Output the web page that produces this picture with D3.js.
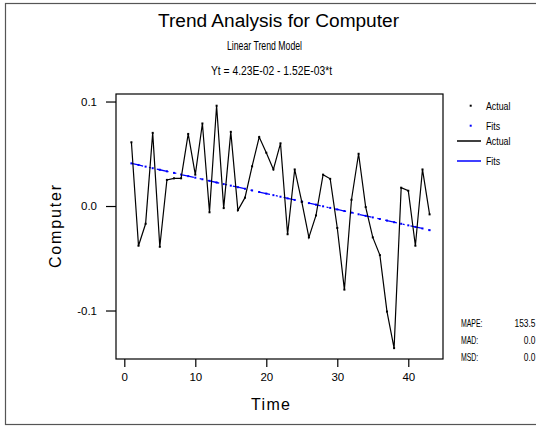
<!DOCTYPE html>
<html>
<head>
<title>Trend Analysis for Computer</title>
<meta charset="utf-8">
<script src="https://d3js.org/d3.v7.min.js"></script>
<style type="text/css">
	body{ margin:0; background:#fff; }
	text{ font-family: "Liberation Sans", Arial, sans-serif; fill:#000; }
</style>
</head>
<body>
<div id="chart"></div>
<script type="text/javascript">
/* time index */
var time_idx = d3.range(1, 44);
/* Actual values */
var actual_vals = [0.061,-0.038,-0.017,0.070,-0.039,0.025,0.0265,0.0265,0.069,0.030,
	0.079,-0.006,0.096,-0.002,0.071,-0.004,0.008,0.038,0.066,0.051,
	0.035,0.060,-0.027,0.035,0.004,-0.030,-0.009,0.030,0.026,-0.021,
	-0.080,0.006,0.050,-0.001,-0.030,-0.047,-0.101,-0.136,0.0175,0.0146,
	-0.038,0.035,-0.008];
/* Fits of the linear trend model */
var fit_vals = [0.0408,0.0393,0.0377,0.0362,0.0347,0.0332,0.0317,0.0301,0.0286,0.0271,
	0.0256,0.0241,0.0225,0.0210,0.0195,0.0180,0.0165,0.0149,0.0134,0.0119,
	0.0104,0.0089,0.0073,0.0058,0.0043,0.0028,0.0013,-0.0003,-0.0018,-0.0033,
	-0.0048,-0.0063,-0.0079,-0.0094,-0.0109,-0.0124,-0.0139,-0.0155,-0.0170,-0.0185,
	-0.0200,-0.0215,-0.0231];
var x_ticks = [0, 10, 20, 30, 40];
var y_ticks = [0.1, 0.0, -0.1];
var y_tick_labels = ["0.1", "0.0", "-0.1"];
var legend_items = ["Actual", "Fits"];
var stat_names = ["MAPE:", "MAD:", "MSD:"];
var stat_vals = ["153.5", "0.0", "0.0"];

var w = 536, h = 436;
var plot = {left:116, right:443, top:94, bottom:359};

var svg = d3.select("#chart").append("svg").attr("width", w).attr("height", h);

/* squeezed text, the narrow font is not installed */
function narrow_text(x, y, size, sx, anchor, str){
	return svg.append("text").attr("transform", "translate(" + x + "," + y + ") scale(" + sx + ",1)")
		.attr("font-size", size).attr("text-anchor", anchor).text(str);
}

/* outer frame */
svg.append("rect").attr("x", 5.5).attr("y", 3.5).attr("width", 540).attr("height", 421)
	.attr("fill", "none").attr("stroke", "#555").attr("stroke-width", 1.2);

var x_scale = d3.scaleLinear().domain([-1.17, 44.89]).range([plot.left, plot.right]);
var y_scale = d3.scaleLinear().domain([-0.1464, 0.1072]).range([plot.bottom, plot.top]);

/* axes */
var x_axis = d3.axisBottom(x_scale).tickValues(x_ticks).tickSize(8).tickSizeOuter(0).tickPadding(6);
var y_axis = d3.axisLeft(y_scale).tickValues(y_ticks).tickSize(10).tickSizeOuter(0).tickPadding(9)
	.tickFormat(function(d, i){ return y_tick_labels[i]; });
svg.append("g").attr("transform", "translate(0," + plot.bottom + ")").call(x_axis)
	.call(function(g){ g.select(".domain").remove(); });
svg.append("g").attr("transform", "translate(" + plot.left + ",0)").call(y_axis)
	.call(function(g){ g.select(".domain").remove(); });
svg.selectAll(".tick line").attr("stroke", "#000").attr("stroke-width", 1.2);
svg.selectAll(".tick text").attr("font-size", 11.5).attr("font-family", "Liberation Sans, Arial, sans-serif");

/* plot frame */
svg.append("rect").attr("x", plot.left).attr("y", plot.top)
	.attr("width", plot.right - plot.left).attr("height", plot.bottom - plot.top)
	.attr("fill", "none").attr("stroke", "#000").attr("stroke-width", 1.2);

/* fits line: blue dash-dot */
var fit_line = d3.line().x(function(d, i){ return x_scale(time_idx[i]); }).y(function(d){ return y_scale(d); });
svg.append("path").attr("d", fit_line(fit_vals)).attr("fill", "none")
	.attr("stroke", "#0000ff").attr("stroke-width", 1.3).attr("stroke-dasharray", "12,6,2,6");
svg.append("g").selectAll("rect").data(fit_vals).enter().append("rect")
	.attr("x", function(d, i){ return x_scale(time_idx[i]) - 1; })
	.attr("y", function(d){ return y_scale(d) - 1; })
	.attr("width", 2).attr("height", 2).attr("fill", "#0000ff");

/* actual line */
var act_line = d3.line().x(function(d, i){ return x_scale(time_idx[i]); }).y(function(d){ return y_scale(d); });
svg.append("path").attr("d", act_line(actual_vals)).attr("fill", "none")
	.attr("stroke", "#000").attr("stroke-width", 1.2).attr("stroke-linejoin", "miter");
svg.append("g").selectAll("rect").data(actual_vals).enter().append("rect")
	.attr("x", function(d, i){ return x_scale(time_idx[i]) - 1; })
	.attr("y", function(d){ return y_scale(d) - 1; })
	.attr("width", 2).attr("height", 2).attr("fill", "#000");

/* titles */
svg.append("text").attr("x", 158).attr("y", 27).attr("font-size", 18)
	.attr("textLength", 241).attr("lengthAdjust", "spacingAndGlyphs").text("Trend Analysis for Computer");
svg.append("text").attr("x", 227).attr("y", 50).attr("font-size", 13)
	.attr("textLength", 75).attr("lengthAdjust", "spacingAndGlyphs").text("Linear Trend Model");
svg.append("text").attr("x", 211).attr("y", 75).attr("font-size", 12.5)
	.attr("textLength", 121).attr("lengthAdjust", "spacingAndGlyphs").text("Yt = 4.23E-02 - 1.52E-03*t");

/* axis labels */
svg.append("text").attr("transform", "translate(61,268) rotate(-90)").attr("font-size", 16)
	.attr("textLength", 83).attr("lengthAdjust", "spacing").text("Computer");
svg.append("text").attr("x", 251).attr("y", 410).attr("font-size", 16)
	.attr("textLength", 39).attr("lengthAdjust", "spacing").text("Time");

/* legend */
var sym_colors = ["#000", "#0000ff"];
legend_items.forEach(function(name, i){
	var yy = 105.7 + 20 * i;
	svg.append("rect").attr("x", 469.7).attr("y", yy - 1).attr("width", 2).attr("height", 2).attr("fill", sym_colors[i]);
	narrow_text(486, yy + 4, 11, 0.8, "start", name);
});
legend_items.forEach(function(name, i){
	var yy = 141 + 20 * i;
	svg.append("line").attr("x1", 457).attr("x2", 481).attr("y1", yy).attr("y2", yy)
		.attr("stroke", sym_colors[i]).attr("stroke-width", 1.5);
	narrow_text(486, yy + 4, 11, 0.8, "start", name);
});

/* accuracy measures */
stat_names.forEach(function(name, i){
	var yy = 326.5 + 17 * i;
	narrow_text(461, yy, 10.5, 0.66, "start", name);
	narrow_text(535.5, yy, 10.5, 0.8, "end", stat_vals[i]);
});
</script>
</body>
</html>
